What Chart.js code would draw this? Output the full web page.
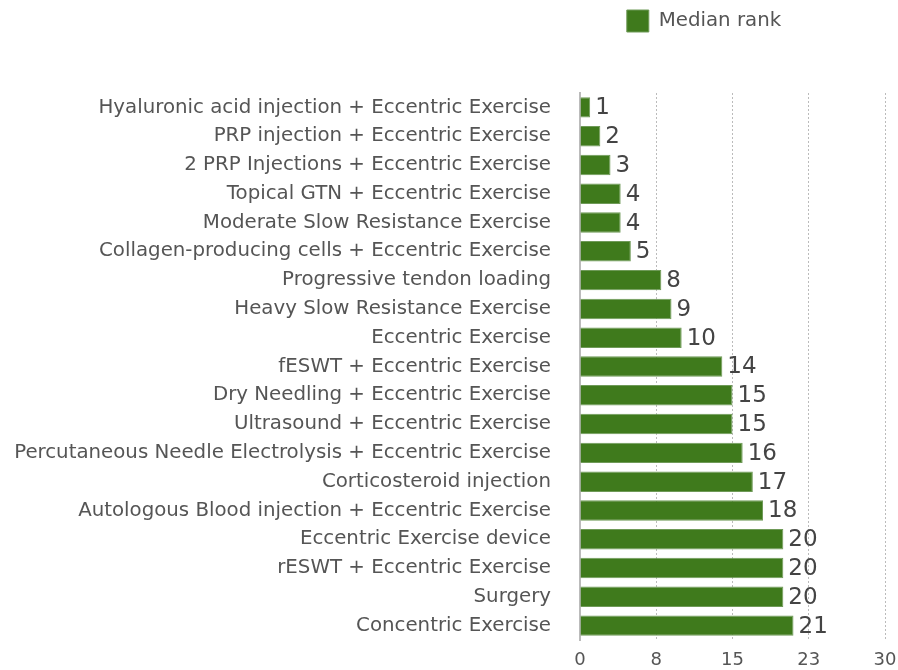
<!DOCTYPE html>
<html>
<head>
<meta charset="utf-8">
<script src="https://cdn.jsdelivr.net/npm/chart.js@4"></script>
<style>
  html, body { margin: 0; padding: 0; background: #fff; }
  #wrap { width: 898px; height: 670px; }
</style>
</head>
<body>
<div id="wrap"><canvas id="myChart" width="898" height="670"></canvas></div>
<script>
const treatments = [
  'Hyaluronic acid injection + Eccentric Exercise',
  'PRP injection + Eccentric Exercise',
  '2 PRP Injections + Eccentric Exercise',
  'Topical GTN + Eccentric Exercise',
  'Moderate Slow Resistance Exercise',
  'Collagen-producing cells + Eccentric Exercise',
  'Progressive tendon loading',
  'Heavy Slow Resistance Exercise',
  'Eccentric Exercise',
  'fESWT + Eccentric Exercise',
  'Dry Needling + Eccentric Exercise',
  'Ultrasound + Eccentric Exercise',
  'Percutaneous Needle Electrolysis + Eccentric Exercise',
  'Corticosteroid injection',
  'Autologous Blood injection + Eccentric Exercise',
  'Eccentric Exercise device',
  'rESWT + Eccentric Exercise',
  'Surgery',
  'Concentric Exercise'
];
const medianRank = [1, 2, 3, 4, 4, 5, 8, 9, 10, 14, 15, 15, 16, 17, 18, 20, 20, 20, 21];
const xTicks = [0, 7.5, 15, 22.5, 30];

const FONT = '"DejaVu Sans", Verdana, sans-serif';

// draws the number at the end of each bar
const valueLabels = {
  id: 'valueLabels',
  afterDatasetsDraw(chart) {
    const ctx = chart.ctx;
    const meta = chart.getDatasetMeta(0);
    ctx.save();
    ctx.font = '23px ' + FONT;
    ctx.fillStyle = '#444';
    ctx.textAlign = 'left';
    ctx.textBaseline = 'middle';
    meta.data.forEach((bar, i) => {
      ctx.fillText(String(medianRank[i]), bar.x + 5, bar.y + 1);
    });
    ctx.restore();
  }
};

// extra room under the legend, and move it over the bars
const legendPlace = {
  id: 'legendPlace',
  beforeInit(chart) {
    const fit = chart.legend.fit;
    chart.legend.fit = function () {
      fit.bind(chart.legend)();
      this.height += 51;
    };
  },
  afterLayout(chart) {
    chart.legend.left = 557;
    chart.legend.right = 851;
  }
};

const ctx = document.getElementById('myChart').getContext('2d');

const myChart = new Chart(ctx, {
  type: 'bar',
  data: {
    labels: treatments,
    datasets: [{
      label: 'Median rank',
      data: medianRank,
      backgroundColor: '#3f7a1c',
      borderColor: '#6f9a58',
      borderWidth: 1,
      barPercentage: 0.71,
      categoryPercentage: 1
    }]
  },
  plugins: [valueLabels, legendPlace],
  options: {
    indexAxis: 'y',
    responsive: false,
    animation: false,
    layout: { padding: 0 },
    plugins: {
      legend: {
        display: true,
        position: 'top',
        align: 'center',
        labels: {
          boxWidth: 22,
          boxHeight: 22,
          padding: 10,
          color: '#555',
          font: { family: FONT, size: 19.8 }
        }
      },
      title: { display: false },
      tooltip: { enabled: false }
    },
    scales: {
      x: {
        type: 'linear',
        min: 0,
        max: 30,
        afterBuildTicks(scale) {
          scale.ticks = xTicks.map(v => ({ value: v }));
        },
        afterFit(scale) {
          scale.height = 30;
          scale.paddingLeft = 0;
          scale.paddingRight = 13;
        },
        ticks: {
          color: '#555',
          font: { family: FONT, size: 18 },
          padding: 10,
          callback: v => Math.round(v)
        },
        grid: {
          drawTicks: false,
          color: ctx => ctx.index === 0 ? 'rgba(0,0,0,0)' : '#bbb',
          lineWidth: 1
        },
        border: { display: false, dash: [2, 2] }
      },
      y: {
        afterFit(scale) {
          scale.width = 580;
          scale.paddingTop = 0;
          scale.paddingBottom = 0;
        },
        ticks: {
          color: '#555',
          font: { family: FONT, size: 19.8 },
          padding: 29
        },
        grid: { display: false, drawTicks: false },
        border: { display: true, color: '#bbb', width: 2 }
      }
    }
  }
});
</script>
</body>
</html>
